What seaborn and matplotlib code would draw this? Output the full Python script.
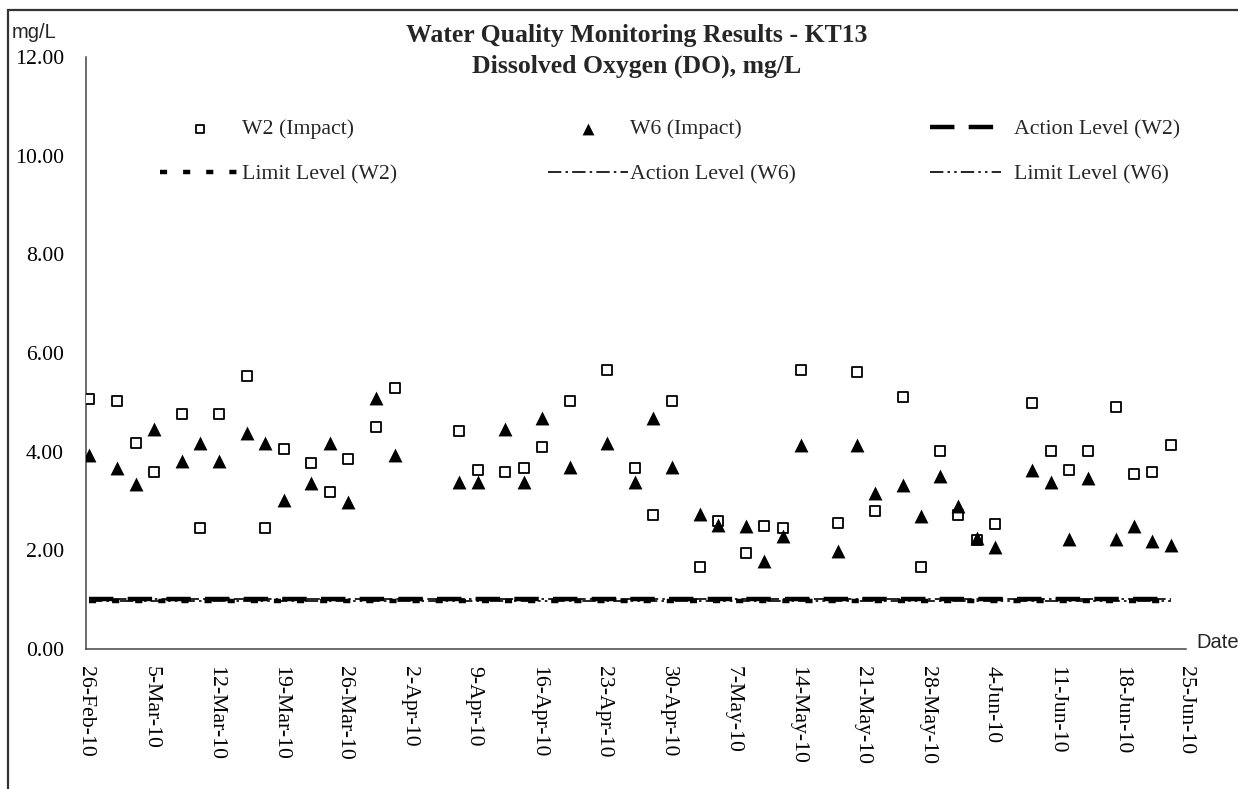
import matplotlib
matplotlib.use("Agg")
import matplotlib.pyplot as plt
import seaborn as sns
import pandas as pd
from matplotlib.patches import Rectangle

# ---------------- data ----------------
sample_dates = [
    "2010-02-26", "2010-03-01", "2010-03-03", "2010-03-05", "2010-03-08", "2010-03-10",
    "2010-03-12", "2010-03-15", "2010-03-17", "2010-03-19", "2010-03-22", "2010-03-24",
    "2010-03-26", "2010-03-29", "2010-03-31", "2010-04-07", "2010-04-09", "2010-04-12",
    "2010-04-14", "2010-04-16", "2010-04-19", "2010-04-23", "2010-04-26", "2010-04-28",
    "2010-04-30", "2010-05-03", "2010-05-05", "2010-05-08", "2010-05-10", "2010-05-12",
    "2010-05-14", "2010-05-18", "2010-05-20", "2010-05-22", "2010-05-25", "2010-05-27",
    "2010-05-29", "2010-05-31", "2010-06-02", "2010-06-04", "2010-06-08", "2010-06-10",
    "2010-06-12", "2010-06-14", "2010-06-17", "2010-06-19", "2010-06-21", "2010-06-23",
]
sample_time = "09:00"

w2_impact = [
    5.07, 5.03, 4.17, 3.58, 4.76, 2.45, 4.76, 5.54, 2.45, 4.05, 3.78, 3.19, 3.86, 4.49, 5.30,
    4.41, 3.63, 3.58, 3.66, 4.09, 5.03, 5.66, 3.66, 2.72, 5.03, 1.66, 2.60,
    1.94, 2.49, 2.45, 5.66, 2.56, 5.62, 2.80, 5.11, 1.66, 4.01, 2.72, 2.21, 2.53,
    4.99, 4.01, 3.62, 4.01, 4.91, 3.54, 3.58, 4.13,
]
w6_impact = [
    3.93, 3.66, 3.34, 4.45, 3.82, 4.17, 3.82, 4.37, 4.17, 3.03, 3.36, 4.17, 2.97, 5.08, 3.93,
    3.39, 3.39, 4.45, 3.39, 4.68, 3.68, 4.17, 3.39, 4.68, 3.68, 2.73, 2.51,
    2.49, 1.79, 2.30, 4.14, 1.99, 4.14, 3.16, 3.32, 2.70, 3.51, 2.89, 2.24, 2.06,
    3.63, 3.39, 2.22, 3.47, 2.22, 2.49, 2.19, 2.11,
]

action_level_w2 = 1.02
limit_level_w2 = 0.98
action_level_w6 = 1.02
limit_level_w6 = 0.98

tick_labels = [
    "26-Feb-10", "5-Mar-10", "12-Mar-10", "19-Mar-10", "26-Mar-10", "2-Apr-10",
    "9-Apr-10", "16-Apr-10", "23-Apr-10", "30-Apr-10", "7-May-10", "14-May-10",
    "21-May-10", "28-May-10", "4-Jun-10", "11-Jun-10", "18-Jun-10", "25-Jun-10",
]
y_ticks = [0, 2, 4, 6, 8, 10, 12]

# ---------------- build table ----------------
dates = pd.to_datetime([f"{d} {sample_time}" for d in sample_dates])
n = len(dates)
df = pd.DataFrame({
    "date": dates,
    "W2": w2_impact,
    "W6": w6_impact,
    "ActW2": [action_level_w2] * n,
    "LimW2": [limit_level_w2] * n,
    "ActW6": [action_level_w6] * n,
    "LimW6": [limit_level_w6] * n,
})
tick_dates = pd.to_datetime(tick_labels, format="%d-%b-%y")

# ---------------- style ----------------
sns.set_style("white")
plt.rcParams["font.family"] = ["Liberation Serif", "DejaVu Serif"]

W, H, DPI = 1238, 789, 100
fig = plt.figure(figsize=(W / DPI, H / DPI), dpi=DPI)
ax = fig.add_axes([86 / W, 1 - 649 / H, (1186 - 86) / W, (649 - 57) / H])

# level lines
sns.lineplot(data=df, x="date", y="ActW2", ax=ax, color="black", lw=3.2,
             linestyle=(0, (5.5, 3.2)), errorbar=None, label="Action Level (W2)")
sns.lineplot(data=df, x="date", y="LimW2", ax=ax, color="black", lw=3.2,
             linestyle=(0, (1.6, 3.6)), errorbar=None, label="Limit Level (W2)")
sns.lineplot(data=df, x="date", y="ActW6", ax=ax, color="black", lw=1.2,
             linestyle=(0, (8, 2.5, 1.5, 2.5)), errorbar=None, label="Action Level (W6)")
sns.lineplot(data=df, x="date", y="LimW6", ax=ax, color="black", lw=1.2,
             linestyle=(0, (8, 2.5, 1.5, 2.5, 1.5, 2.5)), errorbar=None, label="Limit Level (W6)")

# sample points
sns.scatterplot(data=df, x="date", y="W2", ax=ax, marker="s", s=48, color="white",
                edgecolor="black", linewidth=1.3, label="W2 (Impact)", zorder=5)
sns.scatterplot(data=df, x="date", y="W6", ax=ax, marker="^", s=100, color="black",
                edgecolor="black", linewidth=0, label="W6 (Impact)", zorder=6)

# axes
ax.set_xlim(tick_dates[0], tick_dates[-1])
ax.set_ylim(0, 12)
ax.set_yticks(y_ticks)
ax.set_yticklabels([f"{v:.2f}" for v in y_ticks])
ax.set_xticks(tick_dates)
ax.set_xticklabels(tick_labels, rotation=-90, ha="center", va="top")
ax.set_xlabel("")
ax.set_ylabel("")
for side in ["top", "right"]:
    ax.spines[side].set_visible(False)
for side in ["left", "bottom"]:
    ax.spines[side].set_color("#444444")
    ax.spines[side].set_linewidth(1.1)
ax.tick_params(axis="both", direction="in", length=4, width=1, color="#444444",
               labelsize=15.7, labelcolor="black")
ax.tick_params(axis="y", pad=16)
ax.tick_params(axis="x", pad=12)
ax.set_facecolor("white")

# legend (three columns, each its own block)
handles, labels = ax.get_legend_handles_labels()
hmap = dict(zip(labels, handles))
if ax.get_legend() is not None:
    ax.get_legend().remove()
prop = {"family": "Liberation Serif", "size": 15.7}
common = dict(loc="upper left", frameon=False, borderpad=0, borderaxespad=0,
              labelspacing=1.13, prop=prop, bbox_transform=fig.transFigure,
              markerscale=0.85)
top = 1 - 119 / H
fig.legend([hmap["W2 (Impact)"], hmap["Limit Level (W2)"]],
           ["W2 (Impact)", "Limit Level (W2)"],
           bbox_to_anchor=(160 / W, top), handlelength=3.67, handletextpad=0.1, **common)
fig.legend([hmap["W6 (Impact)"], hmap["Action Level (W6)"]],
           ["W6 (Impact)", "Action Level (W6)"],
           bbox_to_anchor=(548 / W, top), handlelength=3.67, handletextpad=0.1, **common)
fig.legend([hmap["Action Level (W2)"], hmap["Limit Level (W6)"]],
           ["Action Level (W2)", "Limit Level (W6)"],
           bbox_to_anchor=(930 / W, top), handlelength=3.25, handletextpad=0.6, **common)

# titles and axis captions
fig.text(637 / W, 1 - 42 / H, "Water Quality Monitoring Results - KT13", ha="center",
         va="baseline", fontsize=18.5, fontweight="bold", family="Liberation Serif")
fig.text(637 / W, 1 - 73 / H, "Dissolved Oxygen (DO), mg/L", ha="center",
         va="baseline", fontsize=18.5, fontweight="bold", family="Liberation Serif")
fig.text(12 / W, 1 - 38 / H, "mg/L", ha="left", va="baseline", fontsize=14.5,
         family="Liberation Sans")
fig.text(1196 / W, 1 - 648 / H, "Date", ha="left", va="baseline", fontsize=14.5,
         family="Liberation Sans")

# outer chart frame (cropped at right and bottom)
fig.add_artist(Rectangle((8 / W, -0.1), 1.2, 1.1 - 10 / H, transform=fig.transFigure,
                         fill=False, lw=1.6, ec="#333333", clip_on=False))

fig.savefig("out.png", dpi=DPI, facecolor="white")
